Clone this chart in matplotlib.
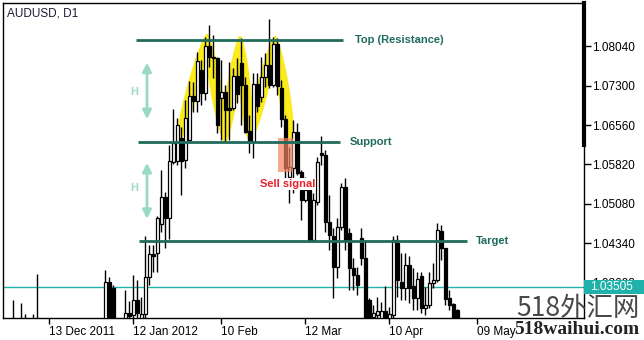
import numpy as np
import matplotlib
matplotlib.use("Agg")
import matplotlib.pyplot as plt
from matplotlib.patches import Rectangle, Polygon
from matplotlib.transforms import blended_transform_factory

plt.rcParams['font.family'] = ['Liberation Sans', 'DejaVu Sans']

# bar number (0 = 13 Dec 2011), daily AUDUSD candles
bars = [-9, -7, -6, -4, -3, 14, 15, 16] + list(range(19, 103))
opens = [1.0240, 1.0270, 1.0255, 1.0270, 1.0255, 1.0240, 1.0361, 1.0349,
         1.0280, 1.0302, 1.0298, 1.0327, 1.0293, 1.0300, 1.0370, 1.0413, 1.0415, 1.0470,
         1.0521, 1.0481, 1.0587, 1.0588, 1.0632, 1.0590, 1.0628, 1.0711, 1.0701, 1.0760,
         1.0716, 1.0805, 1.0784, 1.0782, 1.0707, 1.0718, 1.0688, 1.0688, 1.0748, 1.0773,
         1.0731, 1.0645, 1.0624, 1.0733, 1.0709, 1.0747, 1.0769, 1.0731, 1.0809, 1.0726,
         1.0667, 1.0558, 1.0575, 1.0643, 1.0568, 1.0515, 1.0534, 1.0440, 1.0511, 1.0603,
         1.0600, 1.0474, 1.0447, 1.0389, 1.0464, 1.0539, 1.0453, 1.0387, 1.0374, 1.0443,
         1.0406, 1.0327, 1.0295, 1.0298, 1.0293, 1.0306, 1.0290, 1.0298, 1.0434, 1.0361,
         1.0349, 1.0393, 1.0353, 1.0330, 1.0372, 1.0312, 1.0317, 1.0359, 1.0364, 1.0457,
         1.0425, 1.0330, 1.0319, 1.0308]
highs = [1.0327, 1.0321, 1.0300, 1.0300, 1.0376, 1.0383, 1.0370, 1.0355,
         1.0346, 1.0325, 1.0374, 1.0364, 1.0332, 1.0447, 1.0430, 1.0430, 1.0485, 1.0571,
         1.0530, 1.0619, 1.0686, 1.0669, 1.0652, 1.0703, 1.0739, 1.0737, 1.0794, 1.0779,
         1.0822, 1.0845, 1.0826, 1.0784, 1.0779, 1.0731, 1.0775, 1.0763, 1.0782, 1.0820,
         1.0747, 1.0675, 1.0754, 1.0754, 1.0784, 1.0792, 1.0856, 1.0822, 1.0820, 1.0741,
         1.0675, 1.0615, 1.0666, 1.0660, 1.0571, 1.0558, 1.0549, 1.0528, 1.0596, 1.0635,
         1.0609, 1.0524, 1.0462, 1.0481, 1.0547, 1.0556, 1.0462, 1.0406, 1.0389, 1.0462,
         1.0440, 1.0330, 1.0317, 1.0332, 1.0323, 1.0353, 1.0313, 1.0447, 1.0449, 1.0415,
         1.0415, 1.0410, 1.0387, 1.0379, 1.0379, 1.0351, 1.0379, 1.0396, 1.0472, 1.0468,
         1.0425, 1.0346, 1.0321, 1.0310]
lows = [1.0220, 1.0230, 1.0240, 1.0225, 1.0200, 1.0220, 1.0260, 1.0250,
        1.0270, 1.0291, 1.0291, 1.0293, 1.0285, 1.0293, 1.0355, 1.0379, 1.0379, 1.0455,
        1.0425, 1.0442, 1.0583, 1.0581, 1.0524, 1.0575, 1.0624, 1.0681, 1.0681, 1.0694,
        1.0703, 1.0765, 1.0745, 1.0641, 1.0628, 1.0624, 1.0628, 1.0684, 1.0698, 1.0656,
        1.0641, 1.0603, 1.0594, 1.0681, 1.0699, 1.0728, 1.0726, 1.0728, 1.0713, 1.0652,
        1.0549, 1.0509, 1.0528, 1.0562, 1.0477, 1.0511, 1.0436, 1.0436, 1.0506, 1.0581,
        1.0455, 1.0421, 1.0330, 1.0368, 1.0458, 1.0421, 1.0346, 1.0346, 1.0336, 1.0393,
        1.0270, 1.0275, 1.0285, 1.0290, 1.0285, 1.0280, 1.0280, 1.0285, 1.0332, 1.0327,
        1.0327, 1.0321, 1.0308, 1.0308, 1.0302, 1.0298, 1.0312, 1.0349, 1.0361, 1.0402,
        1.0317, 1.0308, 1.0280, 1.0260]
closes = [1.0260, 1.0250, 1.0280, 1.0250, 1.0240, 1.0361, 1.0280, 1.0270,
          1.0302, 1.0297, 1.0327, 1.0302, 1.0300, 1.0370, 1.0413, 1.0410, 1.0481, 1.0521,
          1.0481, 1.0588, 1.0622, 1.0656, 1.0588, 1.0669, 1.0711, 1.0701, 1.0777, 1.0716,
          1.0805, 1.0784, 1.0782, 1.0656, 1.0718, 1.0684, 1.0684, 1.0748, 1.0715, 1.0731,
          1.0643, 1.0624, 1.0733, 1.0692, 1.0747, 1.0769, 1.0731, 1.0809, 1.0730, 1.0667,
          1.0575, 1.0577, 1.0643, 1.0566, 1.0515, 1.0534, 1.0440, 1.0515, 1.0587, 1.0600,
          1.0474, 1.0449, 1.0389, 1.0464, 1.0539, 1.0440, 1.0387, 1.0374, 1.0355, 1.0406,
          1.0285, 1.0288, 1.0302, 1.0306, 1.0306, 1.0290, 1.0300, 1.0440, 1.0364, 1.0349,
          1.0393, 1.0349, 1.0330, 1.0366, 1.0312, 1.0317, 1.0359, 1.0364, 1.0458, 1.0425,
          1.0329, 1.0317, 1.0290, 1.0275]

date_bars = [0, 21, 43, 64, 85, 107]
date_labels = ['13 Dec 2011', '12 Jan 2012', '10 Feb', '12 Mar', '10 Apr', '09 May']
price_ticks = [1.03600, 1.04340, 1.05080, 1.05820, 1.06560, 1.07300, 1.08040]
last_price = 1.03505

# pattern levels: (label, price, first bar, last bar, label bar)
levels = [('Top (Resistance)', 1.0816, 21.75, 73.5, 76.5),
          ('Support', 1.0624, 22.25, 72.75, 75.25),
          ('Target', 1.0438, 22.5, 104.5, 106.75)]
# yellow zigzag over the three tops
zig_bars = [32.25, 39.5, 44.0, 47.75, 50.25, 56.5, 60.75]
zig_prices = [1.0624, 1.0824, 1.0626, 1.0820, 1.0626, 1.0820, 1.0626]

fig = plt.figure(figsize=(6.44, 3.40), dpi=100)
ax = fig.add_axes([3 / 644, 22 / 340, 581 / 644, 315 / 340])
ax.set_xlim(-11.5, 133.75)
ax.set_ylim(1.02928, 1.08859)

# yellow lens shapes, built in pixel space
def lens(p0, p1, half=6.0, n=60):
    a = ax.transData.transform(p0)
    b = ax.transData.transform(p1)
    c = (a + b) / 2
    d = b - a
    L = np.hypot(d[0], d[1])
    u = d / L
    v = np.array([-u[1], u[0]])
    t = np.linspace(0, 2 * np.pi, n)
    pts = c + np.outer(np.cos(t) * (L / 2 + 2), u) + np.outer(np.sin(t) * half, v)
    return ax.transData.inverted().transform(pts)

for k in range(len(zig_bars) - 1):
    pts = lens((zig_bars[k], zig_prices[k]), (zig_bars[k + 1], zig_prices[k + 1]))
    ax.add_patch(Polygon(pts, closed=True, facecolor='#fbea1e', edgecolor='none', zorder=1))

# candles
o = np.array(opens); h = np.array(highs); l = np.array(lows); c = np.array(closes)
x = np.array(bars)
ax.vlines(x, l, h, color='black', lw=1, zorder=2)
up = c >= o
body = np.maximum(np.abs(c - o), 0.00005)
ax.bar(x[up], body[up], bottom=o[up], width=0.75, color='white', edgecolor='black', lw=0.9, zorder=3)
ax.bar(x[~up], body[~up], bottom=c[~up], width=0.75, color='black', edgecolor='black', lw=0.9, zorder=3)

# levels
for name, p, x0, x1, xt in levels:
    ax.plot([x0, x1], [p, p], color='#1e6b5c', lw=2, zorder=5, solid_capstyle='butt')
    ax.text(xt, p, name, color='#1e6b5c', fontsize=8, fontweight='bold', va='center', zorder=6)

# H arrows
for y0, y1, yt in [(1.0779, 1.0662, 1.0718), (1.0590, 1.0474, 1.0538)]:
    ax.annotate('', xy=(24.5, y0), xytext=(24.5, y1),
                arrowprops=dict(arrowstyle='<|-|>', color='#9ad8c8', lw=2, mutation_scale=13))
    ax.text(21.25, yt, 'H', color='#9ad8c8', fontsize=8, fontweight='bold', ha='center', va='center')

# sell signal
ax.add_patch(Rectangle((57.25, 1.0568), 3.75, 0.0064, facecolor='#f4845f', alpha=0.7,
                       edgecolor='none', zorder=4))
ax.text(59.75, 1.0545, 'Sell signal', color='#e8202a', fontsize=8, fontweight='bold',
        ha='center', va='center', zorder=6,
        bbox=dict(facecolor='white', edgecolor='none', pad=0.6))

# last price line and box
ax.axhline(last_price, color='#20b2aa', lw=1, zorder=1)
tr = blended_transform_factory(ax.transAxes, ax.transData)
ax.add_patch(Rectangle((1.0, last_price - 0.00125), 60 / 581, 0.00258, transform=tr,
                       facecolor='#20b2aa', edgecolor='none', clip_on=False, zorder=10))
ax.text(1.0 + 6 / 581, last_price, '%.5f' % last_price, transform=tr, color='white',
        fontsize=8.5, va='center', ha='left', zorder=11, clip_on=False)
ax.plot([1, 1], [1.06185, 1.08859], transform=tr, color='black', lw=3, clip_on=False, zorder=9)

# axes
ax.yaxis.tick_right()
ax.set_yticks(price_ticks)
ax.set_yticklabels(['%.5f' % p for p in price_ticks])
ax.tick_params(axis='y', direction='out', length=5, width=1, pad=1, labelsize=8.5, colors='black')
ax.set_xticks(date_bars)
ax.set_xticklabels(date_labels)
ax.tick_params(axis='x', direction='out', length=4, width=1, pad=2, labelsize=8.5)
for lbl in ax.get_xticklabels():
    lbl.set_horizontalalignment('left')
for s in ax.spines.values():
    s.set_linewidth(1)
    s.set_color('black')

fig.text(7 / 644, 1 - 14 / 340, 'AUDUSD, D1', fontsize=8.5, color='#1a1a33', va='center')

# watermark
fig.text(516 / 644, 1 - 308 / 340, '518外汇网', fontsize=19, color='#484848', style='italic',
         family=['Noto Sans CJK SC', 'DejaVu Sans'], va='center', ha='left', zorder=20)
fig.text(514 / 644, 1 - 330 / 340, '518waihui.com', fontsize=14, color='#222222',
         family=['Liberation Serif'], fontweight='bold', va='center', ha='left')

fig.savefig('out.png', dpi=100, facecolor='white')
